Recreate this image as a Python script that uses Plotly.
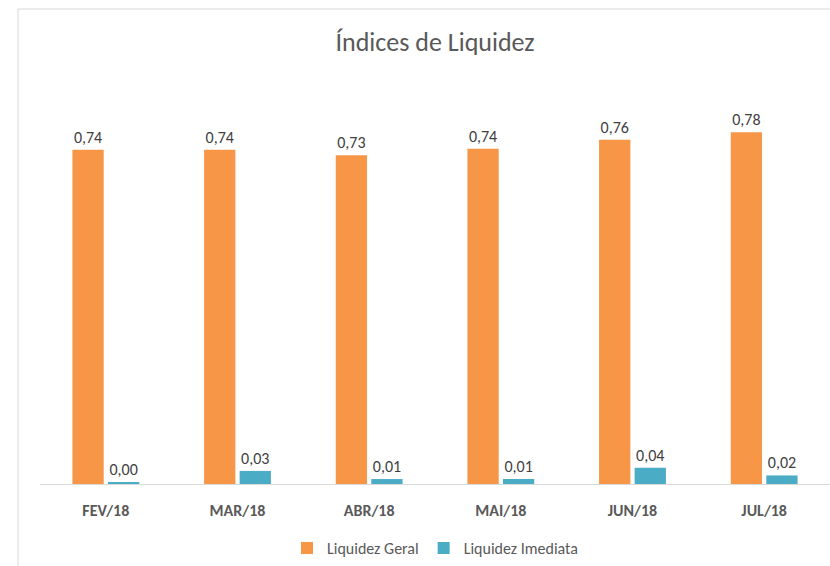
import plotly.graph_objects as go

# dados
meses = ["FEV/18", "MAR/18", "ABR/18", "MAI/18", "JUN/18", "JUL/18"]
liquidez_geral = [0.741, 0.741, 0.729, 0.743, 0.763, 0.780]
liquidez_imediata = [0.003, 0.029, 0.011, 0.011, 0.036, 0.019]

FONT = "Carlito, Lato, sans-serif"
laranja = "#F79646"
azul = "#4BACC6"

fig = go.Figure()
fig.add_trace(go.Bar(name="Liquidez Geral", x=meses, y=liquidez_geral,
                     marker_color=laranja, marker_line_width=0,
                     texttemplate="%{y:.2f}", textposition="outside",
                     textfont=dict(size=16, color="#404040", family=FONT),
                     cliponaxis=False))
fig.add_trace(go.Bar(name="Liquidez Imediata", x=meses, y=liquidez_imediata,
                     marker_color=azul, marker_line_width=0,
                     texttemplate="%{y:.2f}", textposition="outside",
                     textfont=dict(size=16, color="#404040", family=FONT),
                     cliponaxis=False))

fig.update_layout(
    width=830, height=566,
    margin=dict(l=40, r=0, t=78, b=82),
    paper_bgcolor="white", plot_bgcolor="white",
    separators=",.",
    barmode="group", bargap=0.46, bargroupgap=0.12,
    font=dict(family=FONT, color="#595959"),
    title=dict(text="Índices de Liquidez", x=0.5, xref="paper",
               y=1 - 42 / 566, yanchor="middle",
               font=dict(size=26, color="#595959", family=FONT)),
    legend=dict(orientation="h", x=0.5, xanchor="center", y=-0.158,
                yanchor="middle", font=dict(size=16, color="#595959"),
                itemwidth=30, tracegroupgap=0),
    showlegend=True,
)
fig.update_xaxes(showline=True, linecolor="#D9D9D9", linewidth=1,
                 ticks="", showgrid=False, ticklabelstandoff=12,
                 tickfont=dict(size=16, color="#595959", family=FONT,
                               weight="bold"))
fig.update_yaxes(range=[0, 0.9], visible=False, showgrid=False)

# moldura do gráfico (esquerda e topo)
xl = (18 - 40) / 790
yt = (484 - 9) / 406
fig.add_shape(type="line", xref="paper", yref="paper", x0=xl, x1=xl,
              y0=yt, y1=-0.3, line=dict(color="#D9D9D9", width=1))
fig.add_shape(type="line", xref="paper", yref="paper", x0=xl, x1=1.05,
              y0=yt, y1=yt, line=dict(color="#D9D9D9", width=1))

fig.write_html("out.html", config={"displayModeBar": False},
               post_script="document.body.style.margin='0';"
                           "document.body.style.overflow='hidden';")
